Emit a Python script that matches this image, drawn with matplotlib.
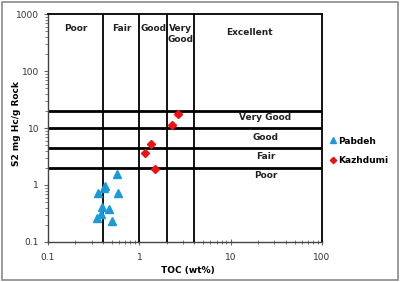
import matplotlib.pyplot as plt
from matplotlib.patches import Rectangle
from matplotlib.ticker import LogLocator, NullFormatter, FixedFormatter, FixedLocator

# data
pabdeh_toc = [0.57, 0.425, 0.353, 0.585, 0.39, 0.47, 0.385, 0.348, 0.50, 0.41]
pabdeh_s2 = [1.55, 0.95, 0.72, 0.73, 0.41, 0.38, 0.31, 0.26, 0.23, 0.90]
kazh_toc = [2.65, 2.30, 1.33, 1.15, 1.50]
kazh_s2 = [17.5, 11.2, 5.3, 3.6, 1.9]

toc_limits = [0.4, 1, 2, 4]
s2_limits = [2, 4.5, 10, 20]
toc_classes = ['Poor', 'Fair', 'Good', 'Very\nGood', 'Excellent']
s2_classes = ['Very Good', 'Good', 'Fair', 'Poor']


def main():
    fig = plt.figure(figsize=(4, 2.82), dpi=100)
    fig.patches.append(Rectangle((0.006, 0.008), 0.988, 0.984, transform=fig.transFigure,
                                 fill=False, edgecolor='#8a8a8a', linewidth=1.2))
    ax = fig.add_axes([0.12, 0.142, 0.685, 0.808])
    ax.set_xscale('log')
    ax.set_yscale('log')
    ax.set_xlim(0.1, 100)
    ax.set_ylim(0.1, 1000)

    for v in toc_limits:
        ax.plot([v, v], [0.1, 1000], color='black', lw=1.3, zorder=2)
    for v in s2_limits:
        ax.plot([0.1, 100], [v, v], color='black', lw=2.0, zorder=2)

    ax.plot(pabdeh_toc, pabdeh_s2, '^', color='#1a9ad6', ms=5.5, mec='#1a9ad6',
            label='Pabdeh', zorder=3)
    ax.plot(kazh_toc, kazh_s2, 'D', color='#ee1111', ms=4, mec='#ee1111',
            label='Kazhdumi', zorder=3)

    fs = 6.5
    tk = dict(fontsize=fs, fontweight='bold', ha='center', va='center', color='#222222')
    ax.text(0.2, 560, toc_classes[0], **tk)
    ax.text(0.64, 560, toc_classes[1], **tk)
    ax.text(1.42, 560, toc_classes[2], **tk)
    ax.text(2.85, 450, toc_classes[3], linespacing=1.3, **tk)
    ax.text(16, 480, toc_classes[4], **tk)
    ax.text(24, 15.5, s2_classes[0], **tk)
    ax.text(24, 6.9, s2_classes[1], **tk)
    ax.text(24, 3.15, s2_classes[2], **tk)
    ax.text(24, 1.45, s2_classes[3], **tk)

    for s in ['top', 'right']:
        ax.spines[s].set_color('black')
        ax.spines[s].set_linewidth(1.3)
    for s in ['left', 'bottom']:
        ax.spines[s].set_color('#444444')
        ax.spines[s].set_linewidth(1.0)

    ax.xaxis.set_major_locator(FixedLocator([0.1, 1, 10, 100]))
    ax.xaxis.set_major_formatter(FixedFormatter(['0.1', '1', '10', '100']))
    ax.yaxis.set_major_locator(FixedLocator([0.1, 1, 10, 100, 1000]))
    ax.yaxis.set_major_formatter(FixedFormatter(['0.1', '1', '10', '100', '1000']))
    ax.xaxis.set_minor_locator(LogLocator(subs=range(2, 10)))
    ax.yaxis.set_minor_locator(LogLocator(subs=range(2, 10)))
    ax.xaxis.set_minor_formatter(NullFormatter())
    ax.yaxis.set_minor_formatter(NullFormatter())
    ax.tick_params(which='both', labelsize=fs, labelcolor='#333333', color='#666666')
    ax.tick_params(axis='x', which='major', direction='inout', length=4, pad=6)
    ax.tick_params(axis='x', which='minor', direction='inout', length=2.5)
    ax.tick_params(axis='y', which='major', direction='out', length=3)
    ax.tick_params(axis='y', which='minor', direction='out', length=2)

    ax.set_xlabel('TOC (wt%)', fontsize=fs, fontweight='bold')
    ax.set_ylabel('S2 mg Hc/g Rock', fontsize=fs, fontweight='bold')
    ax.xaxis.set_label_coords(0.51, -0.105)
    ax.yaxis.set_label_coords(-0.098, 0.52)

    ax.legend(loc='center left', bbox_to_anchor=(1.0, 0.40), frameon=False,
              prop={'size': 6.5, 'weight': 'bold'}, handlelength=0.6,
              handletextpad=0.3, labelspacing=1.15, markerscale=0.8)

    fig.savefig('out.png', dpi=100)


if __name__ == '__main__':
    main()
